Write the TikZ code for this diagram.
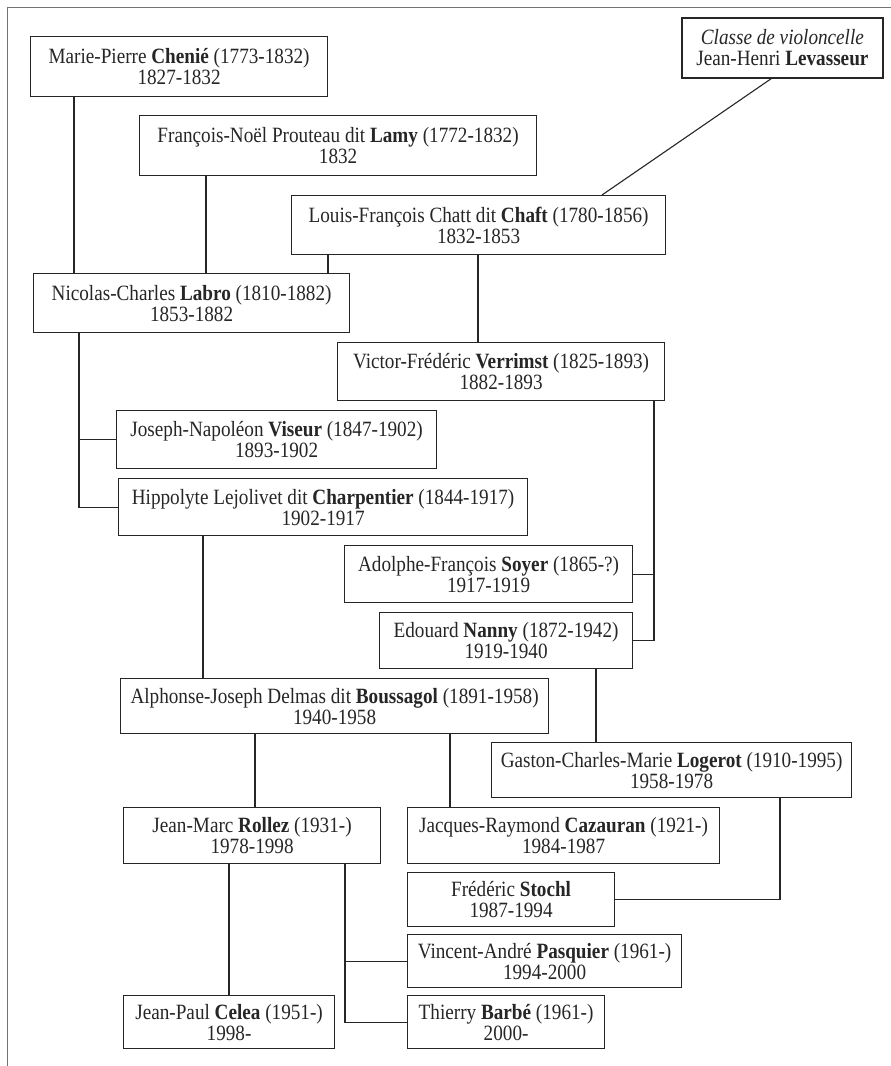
\documentclass[tikz,border=0pt]{standalone}
\usepackage{fontspec}
\setmainfont{Liberation Serif}[FakeStretch=0.88]
\begin{document}
\begin{tikzpicture}[x=1pt,y=-1pt,
  box/.style={draw=black!85, line width=1.2pt, align=center, inner sep=0pt,
    font=\fontsize{21.8}{21}\selectfont, text=black!85},
  conn/.style={draw=black!85, line width=1.1pt}]
\useasboundingbox[fill=white] (0,0) rectangle (891,1066);
\draw[black!55, line width=1pt] (7,1066) -- (7,7) -- (891,7);
\newcommand{\bx}[6]{% name, x1,y1,x2,y2, text
  \node[box, anchor=north west, minimum width={#4-#2}, minimum height={#5-#3}] (#1) at (#2,#3) {#6};}
\bx{chenie}{30}{36}{327}{96}{Marie-Pierre \textbf{Cheni\'e} (1773-1832)\\1827-1832}
\bx{lamy}{139}{115}{536}{175}{François-Noël Prouteau dit \textbf{Lamy} (1772-1832)\\1832}
\bx{chaft}{291}{195}{665}{254}{Louis-François Chatt dit \textbf{Chaft} (1780-1856)\\1832-1853}
\node[box, line width=1.8pt, anchor=north west, minimum width=201, minimum height=60] (lev) at (681,17) {\textit{Classe de violoncelle}\\Jean-Henri \textbf{Levasseur}};
\bx{labro}{33}{273}{349}{332}{Nicolas-Charles \textbf{Labro} (1810-1882)\\1853-1882}
\bx{verrimst}{337}{342}{664}{400}{Victor-Frédéric \textbf{Verrimst} (1825-1893)\\1882-1893}
\bx{viseur}{116}{410}{436}{468}{Joseph-Napoléon \textbf{Viseur} (1847-1902)\\1893-1902}
\bx{charp}{118}{478}{527}{535}{Hippolyte Lejolivet dit \textbf{Charpentier} (1844-1917)\\1902-1917}
\bx{soyer}{344}{545}{632}{602}{Adolphe-François \textbf{Soyer} (1865-?)\\1917-1919}
\bx{nanny}{379}{612}{632}{668}{Edouard \textbf{Nanny} (1872-1942)\\1919-1940}
\bx{bouss}{120}{678}{548}{733}{Alphonse-Joseph Delmas dit \textbf{Boussagol} (1891-1958)\\1940-1958}
\bx{logerot}{491}{742}{851}{797}{Gaston-Charles-Marie \textbf{Logerot} (1910-1995)\\1958-1978}
\bx{rollez}{123}{807}{380}{863}{Jean-Marc \textbf{Rollez} (1931-)\\1978-1998}
\bx{cazauran}{407}{807}{719}{863}{Jacques-Raymond \textbf{Cazauran} (1921-)\\1984-1987}
\bx{stochl}{407}{872}{614}{926}{Frédéric \textbf{Stochl}\\1987-1994}
\bx{pasquier}{407}{934}{681}{987}{Vincent-André \textbf{Pasquier} (1961-)\\1994-2000}
\bx{celea}{123}{995}{334}{1048}{Jean-Paul \textbf{Celea} (1951-)\\1998-}
\bx{barbe}{407}{995}{604}{1048}{Thierry \textbf{Barbé} (1961-)\\2000-}
% connectors
\draw[conn] (chenie.south -| 74,0) -- (labro.north -| 74,0);
\draw[conn] (lamy.south -| 206,0) -- (labro.north -| 206,0);
\draw[conn] (chaft.south -| 328,0) -- (labro.north -| 328,0);
\draw[conn] (chaft.south -| 478,0) -- (verrimst.north -| 478,0);
\draw[conn] (lev.south -| 771,0) -- (chaft.north -| 602,0);
\coordinate (lb) at (79,0);
\draw[conn] (labro.south -| lb) -- (charp.west -| lb) -- (charp.west);
\draw[conn] (viseur.west -| lb) -- (viseur.west);
\coordinate (vb) at (654,0);
\draw[conn] (verrimst.south -| vb) -- (nanny.east -| vb) -- (nanny.east);
\draw[conn] (soyer.east -| vb) -- (soyer.east);
\draw[conn] (charp.south -| 203,0) -- (bouss.north -| 203,0);
\draw[conn] (nanny.south -| 596,0) -- (logerot.north -| 596,0);
\draw[conn] (bouss.south -| 255,0) -- (rollez.north -| 255,0);
\draw[conn] (bouss.south -| 450,0) -- (cazauran.north -| 450,0);
\coordinate (lg) at (780,0);
\draw[conn] (logerot.south -| lg) -- (stochl.east -| lg) -- (stochl.east);
\draw[conn] (rollez.south -| 229,0) -- (celea.north -| 229,0);
\coordinate (rb) at (345,0);
\draw[conn] (rollez.south -| rb) -- (barbe.west -| rb) -- (barbe.west);
\draw[conn] (pasquier.west -| rb) -- (pasquier.west);
\end{tikzpicture}
\end{document}
